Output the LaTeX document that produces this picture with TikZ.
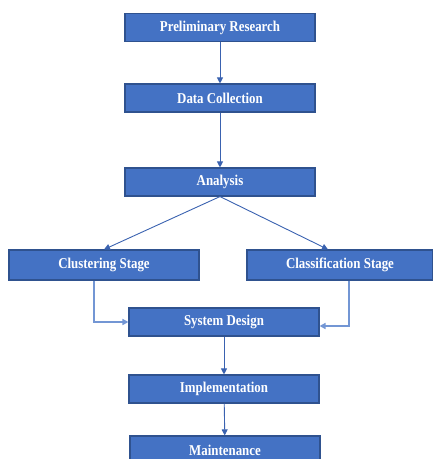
\documentclass[tikz,border=0pt]{standalone}
\usepackage{fontspec}
\newfontfamily\boxfont[FakeStretch=0.86]{Liberation Serif}
\usepackage{tikz}
\usetikzlibrary{arrows.meta,calc}
\definecolor{boxblue}{HTML}{4472C4}
\definecolor{boxedge}{HTML}{2F528F}
\definecolor{flowblue}{HTML}{3A62B0}
\definecolor{sideblue}{HTML}{7396D4}
\tikzset{
  stage/.style={rectangle,fill=boxblue,draw=boxedge,line width=1.1pt,text=white,
    minimum width=190pt,minimum height=28pt,inner sep=0pt,
    font=\boxfont\bfseries\fontsize{15}{18}\selectfont},   % process box
  flow/.style={-{Triangle[length=6pt,width=6pt]},flowblue,line width=0.9pt},
  side/.style={-{Triangle[length=6pt,width=6pt]},sideblue,line width=1.5pt},
}

\begin{document}
\begin{tikzpicture}[x=1pt,y=-1pt]
  \clip (0,0) rectangle (433,459);
  % main column
  \node[stage] (prelim) at (220,27.5) {Preliminary Research};
  \node[stage] (collect) at (220,98) {Data Collection};
  \node[stage] (analysis) at (220,182) {Analysis};
  % two branches
  \node[stage,minimum height=30pt] (cluster) at (104,265) {Clustering Stage};
  \node[stage,minimum height=30pt,minimum width=186pt] (classif) at (340,265) {Classification Stage};
  \node[stage] (design) at (224,322) {System Design};
  \node[stage] (impl) at (224,389) {Implementation};
  \node[stage] (maint) at (225,450) {Maintenance};
  % connectors
  \draw[flow] (prelim) -- (collect);
  \draw[flow] (collect) -- (analysis);
  \draw[flow] (analysis.south) -- (cluster.north);
  \draw[flow] (analysis.south) -- ([xshift=-12pt]classif.north);
  \draw[side] ([xshift=-10pt]cluster.south) |- (design.west);
  \draw[side] ([xshift=9pt]classif.south) |- ([yshift=-4pt]design.east);
  \draw[flow] (design) -- (impl);
  \draw[flow] (impl) -- (maint);
\end{tikzpicture}
\end{document}
